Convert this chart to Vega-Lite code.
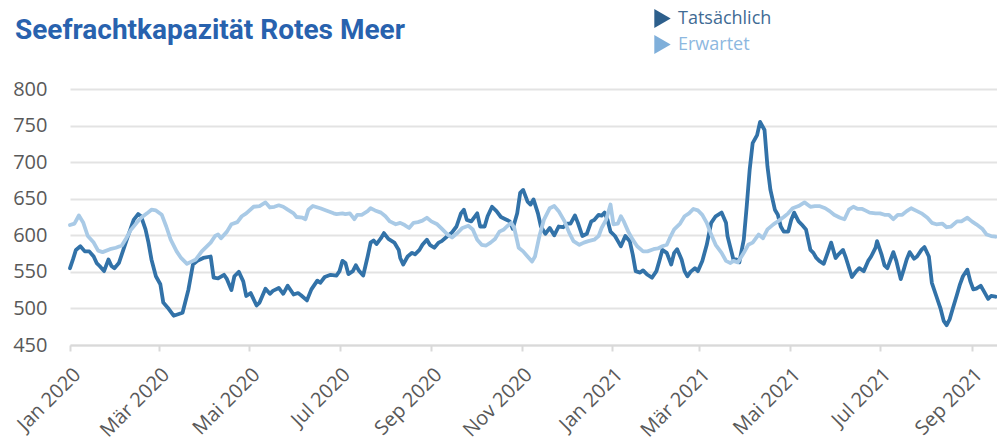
{
"$schema": "https://vega.github.io/schema/vega-lite/v6.json",
"width": 927, "height": 256,
"autosize": {"type": "none"},
"padding": {"left": 70, "top": 89, "right": 0, "bottom": 96},
"background": "white",
"title": {"text": "Seefrachtkapazität Rotes Meer", "anchor": "start", "frame": "group", "dx": -55, "offset": 0, "dy": 58, "baseline": "alphabetic", "font": "Roboto", "fontSize": 28, "fontWeight": "bold", "color": "#2862AE"},
"data": {"values": [
{"date":"2020-01-01","series":"Tatsächlich","value":555},{"date":"2020-01-03","series":"Tatsächlich","value":567},{"date":"2020-01-05","series":"Tatsächlich","value":580},{"date":"2020-01-08","series":"Tatsächlich","value":585},{"date":"2020-01-11","series":"Tatsächlich","value":578},{"date":"2020-01-14","series":"Tatsächlich","value":578},{"date":"2020-01-17","series":"Tatsächlich","value":571},{"date":"2020-01-19","series":"Tatsächlich","value":562},{"date":"2020-01-21","series":"Tatsächlich","value":558},{"date":"2020-01-24","series":"Tatsächlich","value":551},{"date":"2020-01-27","series":"Tatsächlich","value":567},{"date":"2020-01-29","series":"Tatsächlich","value":558},{"date":"2020-01-31","series":"Tatsächlich","value":555},{"date":"2020-02-03","series":"Tatsächlich","value":562},{"date":"2020-02-06","series":"Tatsächlich","value":580},{"date":"2020-02-09","series":"Tatsächlich","value":598},{"date":"2020-02-13","series":"Tatsächlich","value":621},{"date":"2020-02-16","series":"Tatsächlich","value":629},{"date":"2020-02-18","series":"Tatsächlich","value":626},{"date":"2020-02-21","series":"Tatsächlich","value":608},{"date":"2020-02-23","series":"Tatsächlich","value":590},{"date":"2020-02-25","series":"Tatsächlich","value":567},{"date":"2020-02-28","series":"Tatsächlich","value":544},{"date":"2020-03-02","series":"Tatsächlich","value":533},{"date":"2020-03-04","series":"Tatsächlich","value":508},{"date":"2020-03-07","series":"Tatsächlich","value":501},{"date":"2020-03-11","series":"Tatsächlich","value":490},{"date":"2020-03-14","series":"Tatsächlich","value":492},{"date":"2020-03-17","series":"Tatsächlich","value":494},{"date":"2020-03-21","series":"Tatsächlich","value":526},{"date":"2020-03-24","series":"Tatsächlich","value":560},{"date":"2020-03-27","series":"Tatsächlich","value":565},{"date":"2020-03-31","series":"Tatsächlich","value":569},{"date":"2020-04-05","series":"Tatsächlich","value":571},{"date":"2020-04-07","series":"Tatsächlich","value":542},{"date":"2020-04-10","series":"Tatsächlich","value":541},{"date":"2020-04-14","series":"Tatsächlich","value":546},{"date":"2020-04-16","series":"Tatsächlich","value":540},{"date":"2020-04-19","series":"Tatsächlich","value":525},{"date":"2020-04-21","series":"Tatsächlich","value":544},{"date":"2020-04-24","series":"Tatsächlich","value":550},{"date":"2020-04-27","series":"Tatsächlich","value":537},{"date":"2020-04-29","series":"Tatsächlich","value":517},{"date":"2020-05-02","series":"Tatsächlich","value":521},{"date":"2020-05-06","series":"Tatsächlich","value":504},{"date":"2020-05-08","series":"Tatsächlich","value":508},{"date":"2020-05-12","series":"Tatsächlich","value":527},{"date":"2020-05-15","series":"Tatsächlich","value":520},{"date":"2020-05-17","series":"Tatsächlich","value":524},{"date":"2020-05-21","series":"Tatsächlich","value":528},{"date":"2020-05-24","series":"Tatsächlich","value":520},{"date":"2020-05-27","series":"Tatsächlich","value":531},{"date":"2020-05-31","series":"Tatsächlich","value":519},{"date":"2020-06-03","series":"Tatsächlich","value":521},{"date":"2020-06-05","series":"Tatsächlich","value":518},{"date":"2020-06-09","series":"Tatsächlich","value":511},{"date":"2020-06-12","series":"Tatsächlich","value":526},{"date":"2020-06-16","series":"Tatsächlich","value":538},{"date":"2020-06-18","series":"Tatsächlich","value":535},{"date":"2020-06-21","series":"Tatsächlich","value":543},{"date":"2020-06-25","series":"Tatsächlich","value":546},{"date":"2020-06-29","series":"Tatsächlich","value":545},{"date":"2020-07-01","series":"Tatsächlich","value":551},{"date":"2020-07-03","series":"Tatsächlich","value":565},{"date":"2020-07-05","series":"Tatsächlich","value":562},{"date":"2020-07-07","series":"Tatsächlich","value":547},{"date":"2020-07-10","series":"Tatsächlich","value":551},{"date":"2020-07-12","series":"Tatsächlich","value":559},{"date":"2020-07-14","series":"Tatsächlich","value":552},{"date":"2020-07-17","series":"Tatsächlich","value":545},{"date":"2020-07-20","series":"Tatsächlich","value":571},{"date":"2020-07-22","series":"Tatsächlich","value":590},{"date":"2020-07-24","series":"Tatsächlich","value":593},{"date":"2020-07-26","series":"Tatsächlich","value":588},{"date":"2020-07-29","series":"Tatsächlich","value":596},{"date":"2020-07-31","series":"Tatsächlich","value":603},{"date":"2020-08-03","series":"Tatsächlich","value":595},{"date":"2020-08-07","series":"Tatsächlich","value":590},{"date":"2020-08-10","series":"Tatsächlich","value":580},{"date":"2020-08-11","series":"Tatsächlich","value":569},{"date":"2020-08-13","series":"Tatsächlich","value":560},{"date":"2020-08-16","series":"Tatsächlich","value":571},{"date":"2020-08-19","series":"Tatsächlich","value":576},{"date":"2020-08-21","series":"Tatsächlich","value":574},{"date":"2020-08-24","series":"Tatsächlich","value":580},{"date":"2020-08-26","series":"Tatsächlich","value":587},{"date":"2020-08-29","series":"Tatsächlich","value":594},{"date":"2020-08-31","series":"Tatsächlich","value":587},{"date":"2020-09-03","series":"Tatsächlich","value":583},{"date":"2020-09-06","series":"Tatsächlich","value":590},{"date":"2020-09-08","series":"Tatsächlich","value":592},{"date":"2020-09-12","series":"Tatsächlich","value":599},{"date":"2020-09-15","series":"Tatsächlich","value":604},{"date":"2020-09-18","series":"Tatsächlich","value":612},{"date":"2020-09-21","series":"Tatsächlich","value":630},{"date":"2020-09-23","series":"Tatsächlich","value":635},{"date":"2020-09-25","series":"Tatsächlich","value":621},{"date":"2020-09-28","series":"Tatsächlich","value":619},{"date":"2020-10-02","series":"Tatsächlich","value":630},{"date":"2020-10-04","series":"Tatsächlich","value":612},{"date":"2020-10-07","series":"Tatsächlich","value":612},{"date":"2020-10-09","series":"Tatsächlich","value":626},{"date":"2020-10-12","series":"Tatsächlich","value":639},{"date":"2020-10-15","series":"Tatsächlich","value":633},{"date":"2020-10-18","series":"Tatsächlich","value":625},{"date":"2020-10-21","series":"Tatsächlich","value":622},{"date":"2020-10-24","series":"Tatsächlich","value":619},{"date":"2020-10-26","series":"Tatsächlich","value":609},{"date":"2020-10-29","series":"Tatsächlich","value":630},{"date":"2020-10-31","series":"Tatsächlich","value":658},{"date":"2020-11-02","series":"Tatsächlich","value":662},{"date":"2020-11-05","series":"Tatsächlich","value":646},{"date":"2020-11-07","series":"Tatsächlich","value":642},{"date":"2020-11-09","series":"Tatsächlich","value":649},{"date":"2020-11-12","series":"Tatsächlich","value":630},{"date":"2020-11-14","series":"Tatsächlich","value":612},{"date":"2020-11-17","series":"Tatsächlich","value":602},{"date":"2020-11-20","series":"Tatsächlich","value":610},{"date":"2020-11-23","series":"Tatsächlich","value":600},{"date":"2020-11-26","series":"Tatsächlich","value":612},{"date":"2020-11-29","series":"Tatsächlich","value":611},{"date":"2020-12-02","series":"Tatsächlich","value":616},{"date":"2020-12-04","series":"Tatsächlich","value":616},{"date":"2020-12-07","series":"Tatsächlich","value":627},{"date":"2020-12-09","series":"Tatsächlich","value":617},{"date":"2020-12-12","series":"Tatsächlich","value":599},{"date":"2020-12-15","series":"Tatsächlich","value":602},{"date":"2020-12-18","series":"Tatsächlich","value":619},{"date":"2020-12-20","series":"Tatsächlich","value":621},{"date":"2020-12-23","series":"Tatsächlich","value":628},{"date":"2020-12-25","series":"Tatsächlich","value":627},{"date":"2020-12-27","series":"Tatsächlich","value":631},{"date":"2020-12-29","series":"Tatsächlich","value":621},{"date":"2020-12-31","series":"Tatsächlich","value":605},{"date":"2021-01-03","series":"Tatsächlich","value":599},{"date":"2021-01-05","series":"Tatsächlich","value":592},{"date":"2021-01-07","series":"Tatsächlich","value":585},{"date":"2021-01-10","series":"Tatsächlich","value":599},{"date":"2021-01-13","series":"Tatsächlich","value":592},{"date":"2021-01-15","series":"Tatsächlich","value":574},{"date":"2021-01-17","series":"Tatsächlich","value":551},{"date":"2021-01-20","series":"Tatsächlich","value":549},{"date":"2021-01-22","series":"Tatsächlich","value":552},{"date":"2021-01-25","series":"Tatsächlich","value":546},{"date":"2021-01-28","series":"Tatsächlich","value":542},{"date":"2021-01-31","series":"Tatsächlich","value":551},{"date":"2021-02-02","series":"Tatsächlich","value":565},{"date":"2021-02-04","series":"Tatsächlich","value":580},{"date":"2021-02-07","series":"Tatsächlich","value":576},{"date":"2021-02-10","series":"Tatsächlich","value":560},{"date":"2021-02-12","series":"Tatsächlich","value":576},{"date":"2021-02-14","series":"Tatsächlich","value":581},{"date":"2021-02-17","series":"Tatsächlich","value":567},{"date":"2021-02-19","series":"Tatsächlich","value":551},{"date":"2021-02-21","series":"Tatsächlich","value":544},{"date":"2021-02-23","series":"Tatsächlich","value":550},{"date":"2021-02-26","series":"Tatsächlich","value":555},{"date":"2021-02-28","series":"Tatsächlich","value":551},{"date":"2021-03-03","series":"Tatsächlich","value":565},{"date":"2021-03-06","series":"Tatsächlich","value":587},{"date":"2021-03-09","series":"Tatsächlich","value":617},{"date":"2021-03-12","series":"Tatsächlich","value":626},{"date":"2021-03-16","series":"Tatsächlich","value":631},{"date":"2021-03-19","series":"Tatsächlich","value":617},{"date":"2021-03-20","series":"Tatsächlich","value":599},{"date":"2021-03-22","series":"Tatsächlich","value":583},{"date":"2021-03-24","series":"Tatsächlich","value":567},{"date":"2021-03-26","series":"Tatsächlich","value":567},{"date":"2021-03-28","series":"Tatsächlich","value":563},{"date":"2021-03-31","series":"Tatsächlich","value":594},{"date":"2021-04-02","series":"Tatsächlich","value":640},{"date":"2021-04-04","series":"Tatsächlich","value":690},{"date":"2021-04-06","series":"Tatsächlich","value":726},{"date":"2021-04-09","series":"Tatsächlich","value":737},{"date":"2021-04-11","series":"Tatsächlich","value":755},{"date":"2021-04-14","series":"Tatsächlich","value":744},{"date":"2021-04-16","series":"Tatsächlich","value":694},{"date":"2021-04-18","series":"Tatsächlich","value":662},{"date":"2021-04-21","series":"Tatsächlich","value":635},{"date":"2021-04-23","series":"Tatsächlich","value":628},{"date":"2021-04-25","series":"Tatsächlich","value":612},{"date":"2021-04-27","series":"Tatsächlich","value":605},{"date":"2021-04-30","series":"Tatsächlich","value":605},{"date":"2021-05-02","series":"Tatsächlich","value":621},{"date":"2021-05-04","series":"Tatsächlich","value":631},{"date":"2021-05-07","series":"Tatsächlich","value":619},{"date":"2021-05-09","series":"Tatsächlich","value":615},{"date":"2021-05-12","series":"Tatsächlich","value":608},{"date":"2021-05-15","series":"Tatsächlich","value":580},{"date":"2021-05-17","series":"Tatsächlich","value":576},{"date":"2021-05-19","series":"Tatsächlich","value":569},{"date":"2021-05-21","series":"Tatsächlich","value":565},{"date":"2021-05-24","series":"Tatsächlich","value":561},{"date":"2021-05-27","series":"Tatsächlich","value":578},{"date":"2021-05-29","series":"Tatsächlich","value":590},{"date":"2021-06-01","series":"Tatsächlich","value":569},{"date":"2021-06-03","series":"Tatsächlich","value":574},{"date":"2021-06-06","series":"Tatsächlich","value":580},{"date":"2021-06-08","series":"Tatsächlich","value":569},{"date":"2021-06-12","series":"Tatsächlich","value":543},{"date":"2021-06-15","series":"Tatsächlich","value":551},{"date":"2021-06-17","series":"Tatsächlich","value":555},{"date":"2021-06-20","series":"Tatsächlich","value":551},{"date":"2021-06-23","series":"Tatsächlich","value":565},{"date":"2021-06-25","series":"Tatsächlich","value":571},{"date":"2021-06-28","series":"Tatsächlich","value":583},{"date":"2021-06-29","series":"Tatsächlich","value":592},{"date":"2021-07-02","series":"Tatsächlich","value":574},{"date":"2021-07-04","series":"Tatsächlich","value":559},{"date":"2021-07-06","series":"Tatsächlich","value":555},{"date":"2021-07-10","series":"Tatsächlich","value":577},{"date":"2021-07-12","series":"Tatsächlich","value":565},{"date":"2021-07-15","series":"Tatsächlich","value":540},{"date":"2021-07-17","series":"Tatsächlich","value":553},{"date":"2021-07-19","series":"Tatsächlich","value":567},{"date":"2021-07-21","series":"Tatsächlich","value":577},{"date":"2021-07-24","series":"Tatsächlich","value":568},{"date":"2021-07-26","series":"Tatsächlich","value":571},{"date":"2021-07-29","series":"Tatsächlich","value":580},{"date":"2021-07-31","series":"Tatsächlich","value":584},{"date":"2021-08-03","series":"Tatsächlich","value":571},{"date":"2021-08-05","series":"Tatsächlich","value":535},{"date":"2021-08-08","series":"Tatsächlich","value":517},{"date":"2021-08-11","series":"Tatsächlich","value":499},{"date":"2021-08-13","series":"Tatsächlich","value":483},{"date":"2021-08-15","series":"Tatsächlich","value":477},{"date":"2021-08-17","series":"Tatsächlich","value":485},{"date":"2021-08-19","series":"Tatsächlich","value":499},{"date":"2021-08-22","series":"Tatsächlich","value":519},{"date":"2021-08-24","series":"Tatsächlich","value":533},{"date":"2021-08-26","series":"Tatsächlich","value":544},{"date":"2021-08-29","series":"Tatsächlich","value":553},{"date":"2021-08-31","series":"Tatsächlich","value":537},{"date":"2021-09-02","series":"Tatsächlich","value":526},{"date":"2021-09-04","series":"Tatsächlich","value":527},{"date":"2021-09-07","series":"Tatsächlich","value":531},{"date":"2021-09-09","series":"Tatsächlich","value":524},{"date":"2021-09-12","series":"Tatsächlich","value":513},{"date":"2021-09-14","series":"Tatsächlich","value":517},{"date":"2021-09-17","series":"Tatsächlich","value":516},
{"date":"2020-01-01","series":"Erwartet","value":614},{"date":"2020-01-04","series":"Erwartet","value":616},{"date":"2020-01-07","series":"Erwartet","value":627},{"date":"2020-01-10","series":"Erwartet","value":617},{"date":"2020-01-13","series":"Erwartet","value":599},{"date":"2020-01-17","series":"Erwartet","value":590},{"date":"2020-01-20","series":"Erwartet","value":579},{"date":"2020-01-23","series":"Erwartet","value":577},{"date":"2020-01-28","series":"Erwartet","value":581},{"date":"2020-02-01","series":"Erwartet","value":583},{"date":"2020-02-05","series":"Erwartet","value":586},{"date":"2020-02-08","series":"Erwartet","value":596},{"date":"2020-02-11","series":"Erwartet","value":607},{"date":"2020-02-15","series":"Erwartet","value":617},{"date":"2020-02-18","series":"Erwartet","value":624},{"date":"2020-02-22","series":"Erwartet","value":630},{"date":"2020-02-25","series":"Erwartet","value":635},{"date":"2020-02-28","series":"Erwartet","value":634},{"date":"2020-03-03","series":"Erwartet","value":628},{"date":"2020-03-06","series":"Erwartet","value":612},{"date":"2020-03-09","series":"Erwartet","value":594},{"date":"2020-03-13","series":"Erwartet","value":578},{"date":"2020-03-16","series":"Erwartet","value":569},{"date":"2020-03-20","series":"Erwartet","value":561},{"date":"2020-03-23","series":"Erwartet","value":564},{"date":"2020-03-26","series":"Erwartet","value":567},{"date":"2020-03-30","series":"Erwartet","value":578},{"date":"2020-04-05","series":"Erwartet","value":590},{"date":"2020-04-08","series":"Erwartet","value":599},{"date":"2020-04-10","series":"Erwartet","value":601},{"date":"2020-04-12","series":"Erwartet","value":596},{"date":"2020-04-16","series":"Erwartet","value":605},{"date":"2020-04-19","series":"Erwartet","value":615},{"date":"2020-04-23","series":"Erwartet","value":618},{"date":"2020-04-26","series":"Erwartet","value":626},{"date":"2020-04-29","series":"Erwartet","value":630},{"date":"2020-05-04","series":"Erwartet","value":639},{"date":"2020-05-08","series":"Erwartet","value":640},{"date":"2020-05-12","series":"Erwartet","value":645},{"date":"2020-05-15","series":"Erwartet","value":638},{"date":"2020-05-18","series":"Erwartet","value":639},{"date":"2020-05-21","series":"Erwartet","value":641},{"date":"2020-05-24","series":"Erwartet","value":639},{"date":"2020-05-27","series":"Erwartet","value":635},{"date":"2020-05-31","series":"Erwartet","value":630},{"date":"2020-06-02","series":"Erwartet","value":625},{"date":"2020-06-06","series":"Erwartet","value":624},{"date":"2020-06-08","series":"Erwartet","value":622},{"date":"2020-06-10","series":"Erwartet","value":635},{"date":"2020-06-13","series":"Erwartet","value":640},{"date":"2020-06-18","series":"Erwartet","value":637},{"date":"2020-06-22","series":"Erwartet","value":634},{"date":"2020-06-27","series":"Erwartet","value":630},{"date":"2020-06-29","series":"Erwartet","value":629},{"date":"2020-07-03","series":"Erwartet","value":630},{"date":"2020-07-05","series":"Erwartet","value":629},{"date":"2020-07-08","series":"Erwartet","value":630},{"date":"2020-07-11","series":"Erwartet","value":622},{"date":"2020-07-13","series":"Erwartet","value":628},{"date":"2020-07-16","series":"Erwartet","value":628},{"date":"2020-07-20","series":"Erwartet","value":633},{"date":"2020-07-22","series":"Erwartet","value":637},{"date":"2020-07-25","series":"Erwartet","value":634},{"date":"2020-07-29","series":"Erwartet","value":631},{"date":"2020-08-01","series":"Erwartet","value":626},{"date":"2020-08-04","series":"Erwartet","value":619},{"date":"2020-08-08","series":"Erwartet","value":615},{"date":"2020-08-11","series":"Erwartet","value":617},{"date":"2020-08-14","series":"Erwartet","value":614},{"date":"2020-08-17","series":"Erwartet","value":610},{"date":"2020-08-20","series":"Erwartet","value":617},{"date":"2020-08-23","series":"Erwartet","value":618},{"date":"2020-08-26","series":"Erwartet","value":620},{"date":"2020-08-29","series":"Erwartet","value":624},{"date":"2020-09-01","series":"Erwartet","value":619},{"date":"2020-09-05","series":"Erwartet","value":615},{"date":"2020-09-08","series":"Erwartet","value":609},{"date":"2020-09-12","series":"Erwartet","value":601},{"date":"2020-09-15","series":"Erwartet","value":597},{"date":"2020-09-18","series":"Erwartet","value":602},{"date":"2020-09-22","series":"Erwartet","value":610},{"date":"2020-09-26","series":"Erwartet","value":613},{"date":"2020-09-29","series":"Erwartet","value":608},{"date":"2020-10-02","series":"Erwartet","value":594},{"date":"2020-10-05","series":"Erwartet","value":587},{"date":"2020-10-08","series":"Erwartet","value":586},{"date":"2020-10-11","series":"Erwartet","value":590},{"date":"2020-10-14","series":"Erwartet","value":595},{"date":"2020-10-17","series":"Erwartet","value":605},{"date":"2020-10-20","series":"Erwartet","value":608},{"date":"2020-10-22","series":"Erwartet","value":612},{"date":"2020-10-25","series":"Erwartet","value":617},{"date":"2020-10-27","series":"Erwartet","value":610},{"date":"2020-10-30","series":"Erwartet","value":583},{"date":"2020-11-02","series":"Erwartet","value":578},{"date":"2020-11-05","series":"Erwartet","value":571},{"date":"2020-11-08","series":"Erwartet","value":564},{"date":"2020-11-10","series":"Erwartet","value":571},{"date":"2020-11-13","series":"Erwartet","value":599},{"date":"2020-11-16","series":"Erwartet","value":621},{"date":"2020-11-20","series":"Erwartet","value":637},{"date":"2020-11-23","series":"Erwartet","value":640},{"date":"2020-11-26","series":"Erwartet","value":633},{"date":"2020-11-30","series":"Erwartet","value":619},{"date":"2020-12-03","series":"Erwartet","value":604},{"date":"2020-12-06","series":"Erwartet","value":592},{"date":"2020-12-10","series":"Erwartet","value":587},{"date":"2020-12-13","series":"Erwartet","value":590},{"date":"2020-12-16","series":"Erwartet","value":592},{"date":"2020-12-20","series":"Erwartet","value":594},{"date":"2020-12-23","series":"Erwartet","value":599},{"date":"2020-12-25","series":"Erwartet","value":610},{"date":"2020-12-28","series":"Erwartet","value":621},{"date":"2020-12-31","series":"Erwartet","value":642},{"date":"2021-01-02","series":"Erwartet","value":615},{"date":"2021-01-05","series":"Erwartet","value":616},{"date":"2021-01-07","series":"Erwartet","value":626},{"date":"2021-01-09","series":"Erwartet","value":619},{"date":"2021-01-12","series":"Erwartet","value":605},{"date":"2021-01-15","series":"Erwartet","value":594},{"date":"2021-01-18","series":"Erwartet","value":585},{"date":"2021-01-22","series":"Erwartet","value":578},{"date":"2021-01-25","series":"Erwartet","value":578},{"date":"2021-01-29","series":"Erwartet","value":581},{"date":"2021-02-01","series":"Erwartet","value":582},{"date":"2021-02-04","series":"Erwartet","value":585},{"date":"2021-02-07","series":"Erwartet","value":587},{"date":"2021-02-09","series":"Erwartet","value":596},{"date":"2021-02-12","series":"Erwartet","value":608},{"date":"2021-02-16","series":"Erwartet","value":616},{"date":"2021-02-19","series":"Erwartet","value":626},{"date":"2021-02-22","series":"Erwartet","value":630},{"date":"2021-02-25","series":"Erwartet","value":636},{"date":"2021-02-28","series":"Erwartet","value":634},{"date":"2021-03-03","series":"Erwartet","value":628},{"date":"2021-03-06","series":"Erwartet","value":617},{"date":"2021-03-09","series":"Erwartet","value":601},{"date":"2021-03-12","series":"Erwartet","value":587},{"date":"2021-03-16","series":"Erwartet","value":576},{"date":"2021-03-19","series":"Erwartet","value":565},{"date":"2021-03-22","series":"Erwartet","value":562},{"date":"2021-03-24","series":"Erwartet","value":565},{"date":"2021-03-27","series":"Erwartet","value":563},{"date":"2021-03-31","series":"Erwartet","value":576},{"date":"2021-04-03","series":"Erwartet","value":587},{"date":"2021-04-06","series":"Erwartet","value":590},{"date":"2021-04-10","series":"Erwartet","value":601},{"date":"2021-04-13","series":"Erwartet","value":596},{"date":"2021-04-16","series":"Erwartet","value":608},{"date":"2021-04-20","series":"Erwartet","value":615},{"date":"2021-04-23","series":"Erwartet","value":619},{"date":"2021-04-27","series":"Erwartet","value":625},{"date":"2021-04-30","series":"Erwartet","value":630},{"date":"2021-05-03","series":"Erwartet","value":637},{"date":"2021-05-07","series":"Erwartet","value":640},{"date":"2021-05-11","series":"Erwartet","value":645},{"date":"2021-05-15","series":"Erwartet","value":639},{"date":"2021-05-18","series":"Erwartet","value":640},{"date":"2021-05-21","series":"Erwartet","value":640},{"date":"2021-05-25","series":"Erwartet","value":637},{"date":"2021-05-28","series":"Erwartet","value":633},{"date":"2021-05-31","series":"Erwartet","value":628},{"date":"2021-06-04","series":"Erwartet","value":624},{"date":"2021-06-07","series":"Erwartet","value":622},{"date":"2021-06-10","series":"Erwartet","value":635},{"date":"2021-06-13","series":"Erwartet","value":639},{"date":"2021-06-16","series":"Erwartet","value":636},{"date":"2021-06-19","series":"Erwartet","value":636},{"date":"2021-06-21","series":"Erwartet","value":634},{"date":"2021-06-24","series":"Erwartet","value":631},{"date":"2021-06-28","series":"Erwartet","value":630},{"date":"2021-07-01","series":"Erwartet","value":630},{"date":"2021-07-04","series":"Erwartet","value":628},{"date":"2021-07-07","series":"Erwartet","value":628},{"date":"2021-07-10","series":"Erwartet","value":622},{"date":"2021-07-13","series":"Erwartet","value":628},{"date":"2021-07-16","series":"Erwartet","value":628},{"date":"2021-07-19","series":"Erwartet","value":633},{"date":"2021-07-22","series":"Erwartet","value":637},{"date":"2021-07-26","series":"Erwartet","value":633},{"date":"2021-07-29","series":"Erwartet","value":630},{"date":"2021-08-02","series":"Erwartet","value":624},{"date":"2021-08-05","series":"Erwartet","value":617},{"date":"2021-08-08","series":"Erwartet","value":615},{"date":"2021-08-12","series":"Erwartet","value":616},{"date":"2021-08-15","series":"Erwartet","value":611},{"date":"2021-08-18","series":"Erwartet","value":612},{"date":"2021-08-22","series":"Erwartet","value":619},{"date":"2021-08-25","series":"Erwartet","value":619},{"date":"2021-08-29","series":"Erwartet","value":624},{"date":"2021-09-01","series":"Erwartet","value":619},{"date":"2021-09-04","series":"Erwartet","value":615},{"date":"2021-09-08","series":"Erwartet","value":609},{"date":"2021-09-11","series":"Erwartet","value":601},{"date":"2021-09-14","series":"Erwartet","value":599},{"date":"2021-09-17","series":"Erwartet","value":598}
]},
"mark": {"type": "line", "strokeWidth": 3.8, "strokeJoin": "round", "strokeCap": "round"},
"encoding": {
  "x": {"field": "date", "type": "temporal",
    "scale": {"type": "utc", "domain": [{"year": 2020, "month": 1, "date": 1, "utc": true}, {"year": 2021, "month": 9, "date": 18, "utc": true}]},
    "axis": {"title": null, "grid": false, "tickCount": {"interval": "month", "step": 2},
      "labelExpr": "['Jan','Feb','Mär','Apr','Mai','Jun','Jul','Aug','Sep','Okt','Nov','Dez'][utcmonth(datum.value)] + ' ' + utcyear(datum.value)",
      "labelAngle": -45, "labelFontSize": 20, "labelFont": "Open Sans", "labelColor": "#595959", "labelPadding": 13, "labelDx": -10,
      "labelOverlap": false, "labelFlush": false, "labelBound": false,
      "domainColor": "#D9D9D9", "domainWidth": 2, "tickColor": "#D9D9D9", "tickWidth": 2, "tickSize": 6}},
  "y": {"field": "value", "type": "quantitative",
    "scale": {"domain": [450, 800], "nice": false, "zero": false},
    "axis": {"title": null, "values": [450, 500, 550, 600, 650, 700, 750, 800], "grid": true, "gridColor": "#E3E3E3", "gridWidth": 2,
      "domain": false, "ticks": false, "labelFontSize": 20, "labelFont": "Open Sans", "labelColor": "#595959", "labelPadding": 23}},
  "color": {"field": "series", "type": "nominal",
    "scale": {"domain": ["Tatsächlich", "Erwartet"], "range": ["#3272A8", "#A9CAE6"]},
    "legend": {"orient": "none", "legendX": 583, "legendY": -80, "title": null, "symbolType": "triangle-right", "symbolSize": 360,
      "labelFontSize": 18, "labelFont": "Open Sans", "labelOffset": 6, "rowPadding": 7, "padding": 0, "symbolStrokeWidth": 0,
      "encode": {
        "symbols": {"update": {"fill": {"signal": "datum.value === 'Tatsächlich' ? '#2D5F8C' : '#7FAFDA'"}, "fillOpacity": {"value": 1}, "stroke": {"value": "transparent"}}},
        "labels": {"update": {"fill": {"signal": "datum.value === 'Tatsächlich' ? '#3F6B94' : '#8DB8E0'"}}}}}}
},
"config": {"view": {"stroke": null}}
}
